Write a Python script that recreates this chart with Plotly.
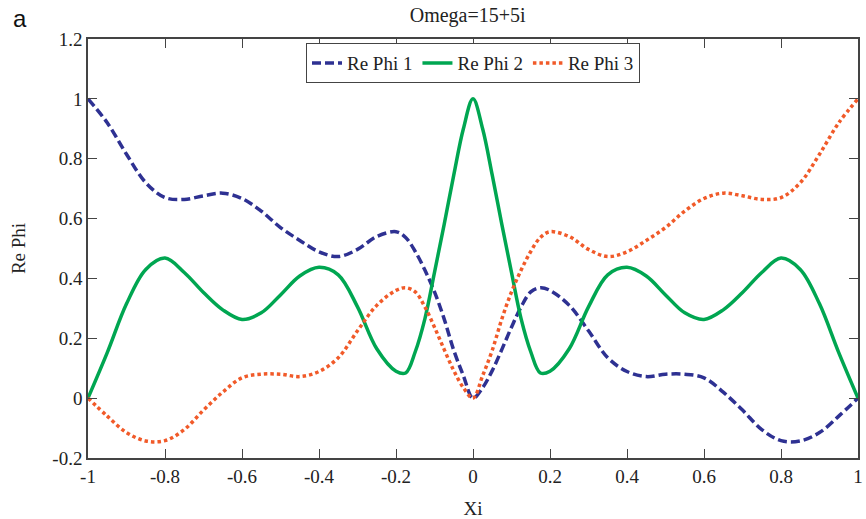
import plotly.graph_objects as go

xi = [-1.0, -0.95, -0.9, -0.85, -0.8, -0.75, -0.7, -0.65, -0.6, -0.55, -0.5,
      -0.45, -0.4, -0.35, -0.3, -0.25, -0.2, -0.175, -0.15, -0.125, -0.1, -0.075,
      -0.05, -0.025, 0.0,
      0.025, 0.05, 0.075, 0.1, 0.125, 0.15, 0.175, 0.2, 0.25, 0.3, 0.35, 0.4,
      0.45, 0.5, 0.55, 0.6, 0.65, 0.7, 0.75, 0.8, 0.85, 0.9, 0.95, 1.0]

re_phi_1 = [1.0, 0.92, 0.815, 0.72, 0.67, 0.664, 0.676, 0.685, 0.667, 0.625, 0.57,
            0.527, 0.489, 0.473, 0.497, 0.54, 0.556, 0.537, 0.49, 0.428, 0.355, 0.265,
            0.16, 0.075, 0.0,
            0.035, 0.092, 0.163, 0.237, 0.305, 0.355, 0.369, 0.36, 0.31, 0.225, 0.135, 0.089,
            0.072, 0.08, 0.08, 0.068, 0.02, -0.04, -0.105, -0.142, -0.143, -0.115, -0.06, 0.0]

re_phi_2 = [0.0, 0.152, 0.315, 0.43, 0.468, 0.42, 0.353, 0.295, 0.263, 0.285, 0.345,
            0.408, 0.437, 0.412, 0.305, 0.165, 0.09, 0.084, 0.155, 0.265, 0.42, 0.58,
            0.745, 0.9, 1.0,
            0.9, 0.745, 0.58, 0.42, 0.265, 0.155, 0.084, 0.09, 0.165, 0.305, 0.412, 0.437,
            0.408, 0.345, 0.285, 0.263, 0.295, 0.353, 0.42, 0.468, 0.43, 0.315, 0.152, 0.0]

re_phi_3 = [0.0, -0.06, -0.115, -0.143, -0.142, -0.105, -0.04, 0.02, 0.068, 0.08, 0.08,
            0.072, 0.089, 0.135, 0.225, 0.31, 0.36, 0.369, 0.355, 0.305, 0.237, 0.163,
            0.092, 0.035, 0.0,
            0.075, 0.16, 0.265, 0.355, 0.428, 0.49, 0.537, 0.556, 0.54, 0.497, 0.473, 0.489,
            0.527, 0.57, 0.625, 0.667, 0.685, 0.676, 0.664, 0.67, 0.72, 0.815, 0.92, 1.0]

x_ticks = [-1, -0.8, -0.6, -0.4, -0.2, 0, 0.2, 0.4, 0.6, 0.8, 1]
x_tick_labels = ["-1", "-0.8", "-0.6", "-0.4", "-0.2", "0", "0.2", "0.4", "0.6", "0.8", "1"]
y_ticks = [-0.2, 0, 0.2, 0.4, 0.6, 0.8, 1, 1.2]
y_tick_labels = ["-0.2", "0", "0.2", "0.4", "0.6", "0.8", "1", "1.2"]

SERIF = "Liberation Serif, Times New Roman, serif"
TXT = "#222222"
AX = "#444444"

fig = go.Figure()
fig.add_trace(go.Scatter(x=xi, y=re_phi_1, mode="lines", name="Re Phi 1",
                         line=dict(color="#2E3192", width=3.5, dash="9px,4px", shape="spline", smoothing=1.0)))
fig.add_trace(go.Scatter(x=xi, y=re_phi_2, mode="lines", name="Re Phi 2",
                         line=dict(color="#00A651", width=3.5, shape="spline", smoothing=1.0)))
fig.add_trace(go.Scatter(x=xi, y=re_phi_3, mode="lines", name="Re Phi 3",
                         line=dict(color="#F15A29", width=3.5, dash="3.5px,3px", shape="spline", smoothing=1.0)))

axis_common = dict(showgrid=False, zeroline=False, showline=True, linecolor=AX, linewidth=1.5,
                   mirror="ticks", ticks="inside", ticklen=9, tickwidth=1.2, tickcolor=AX,
                   tickfont=dict(family=SERIF, size=19, color=TXT))

fig.update_layout(
    width=866, height=519,
    margin=dict(l=88, r=3, t=39, b=60),
    paper_bgcolor="white", plot_bgcolor="white",
    font=dict(family=SERIF, size=19, color=TXT),
    title=dict(text="Omega=15+5i", x=0.54, xanchor="center", y=0.972, yanchor="middle",
               font=dict(family=SERIF, size=20, color=TXT)),
    xaxis=dict(range=[-1, 1], tickvals=x_ticks, ticktext=x_tick_labels,
               title=dict(text="Xi", font=dict(family=SERIF, size=19, color=TXT), standoff=16),
               **axis_common),
    yaxis=dict(range=[-0.2, 1.2], tickvals=y_ticks, ticktext=y_tick_labels,
               title=dict(text="Re Phi", font=dict(family=SERIF, size=19, color=TXT), standoff=22),
               **axis_common),
    legend=dict(orientation="h", x=0.5, xanchor="center", y=0.99, yanchor="top",
                bordercolor=AX, borderwidth=1, bgcolor="white",
                font=dict(family=SERIF, size=19, color=TXT), itemwidth=30,
                tracegroupgap=0),
    showlegend=True,
)

fig.add_annotation(text="a", xref="paper", yref="paper", x=-0.1, y=1.05,
                   xanchor="left", yanchor="middle", showarrow=False,
                   font=dict(family="Liberation Sans, Arial, sans-serif", size=24, color="#111111"))

fig.write_html("out.html")
